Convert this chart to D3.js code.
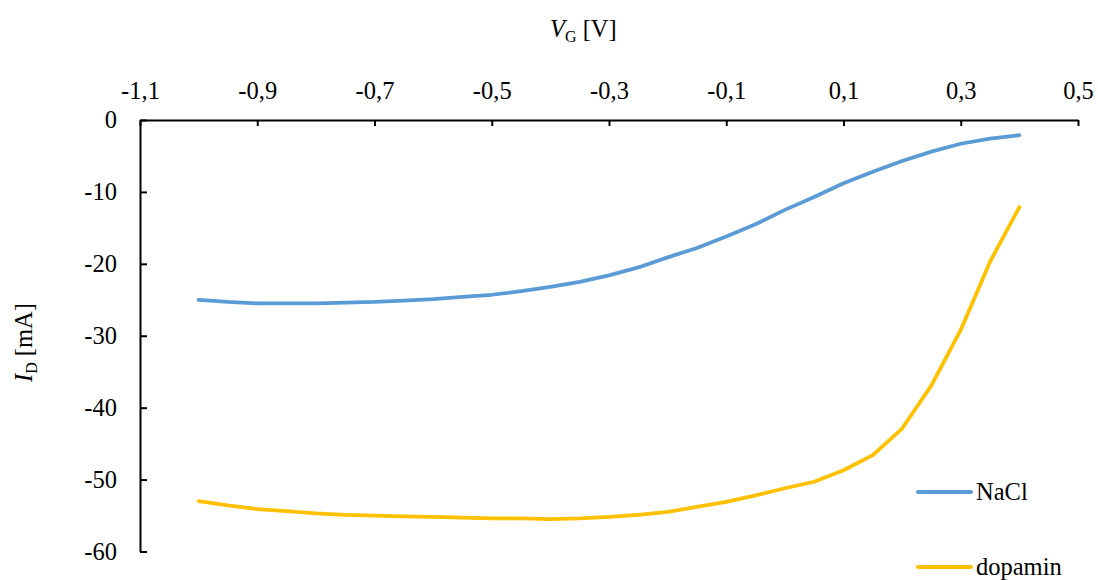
<!DOCTYPE html>
<html>
<head>
<meta charset="utf-8">
<script src="https://cdn.jsdelivr.net/npm/d3@7"></script>
<style>
  html, body { margin: 0; padding: 0; background: #fff; }
  svg { display: block; }
  svg text { font-family: "Liberation Serif", "Tinos", "Times New Roman", serif; }
</style>
</head>
<body>
<svg id="chart" width="1098" height="580"></svg>
<script>
// Gate voltage sweep (V)
const gateVoltage = [-1.00, -0.95, -0.90, -0.85, -0.80, -0.75, -0.70, -0.65, -0.60, -0.55,
                     -0.50, -0.45, -0.40, -0.35, -0.30, -0.25, -0.20, -0.15, -0.10, -0.05,
                      0.00,  0.05,  0.10,  0.15,  0.20,  0.25,  0.30,  0.35,  0.40];

// Drain current (mA) in NaCl solution
const currentNaCl = [-25.0, -25.3, -25.5, -25.5, -25.5, -25.4, -25.3, -25.1, -24.9, -24.6,
                     -24.3, -23.8, -23.2, -22.5, -21.6, -20.5, -19.1, -17.8, -16.2, -14.5,
                     -12.5, -10.7,  -8.8,  -7.2,  -5.7,  -4.4,  -3.3,  -2.6,  -2.1];

// Drain current (mA) with dopamine
const currentDopamin = [-53.0, -53.6, -54.1, -54.4, -54.7, -54.9, -55.0, -55.1, -55.2, -55.3,
                        -55.4, -55.4, -55.5, -55.4, -55.2, -54.9, -54.5, -53.8, -53.1, -52.2,
                        -51.2, -50.3, -48.7, -46.6, -42.9, -36.9, -29.2, -19.7, -12.1];

const seriesNames = ["NaCl", "dopamin"];
const seriesColors = ["#5B9BD5", "#FFC000"];

const xTicks = [-1.1, -0.9, -0.7, -0.5, -0.3, -0.1, 0.1, 0.3, 0.5];
const yTicks = [0, -10, -20, -30, -40, -50, -60];

const svg = d3.select("#chart");

const x = d3.scaleLinear().domain([-1.1, 0.5]).range([140, 1078]);
const y = d3.scaleLinear().domain([-60, 0]).range([551.5, 120]);

const fmtX = d => d.toFixed(1).replace(".", ",");
const fmtY = d => String(d);

// Horizontal axis runs along the top, at I = 0
const xAxis = svg.append("g")
  .attr("transform", `translate(0,${y(0)})`)
  .call(d3.axisTop(x).tickValues(xTicks).tickFormat(fmtX)
    .tickSizeInner(-6).tickSizeOuter(0).tickPadding(21));

const yAxis = svg.append("g")
  .attr("transform", `translate(${x(-1.1)},0)`)
  .call(d3.axisLeft(y).tickValues(yTicks).tickFormat(fmtY)
    .tickSizeInner(-7).tickSizeOuter(0).tickPadding(23));

[xAxis, yAxis].forEach(g => {
  g.attr("font-family", null).attr("font-size", null);
  g.selectAll("path.domain").attr("stroke", "#000").attr("stroke-width", 2);
  g.selectAll(".tick line").attr("stroke", "#000").attr("stroke-width", 2);
  g.selectAll(".tick text")
    .attr("fill", "#000")
    .style("font-size", "24.5px");
});

// Curves
const line = d3.line().x(d => x(d[0])).y(d => y(d[1]));
const series = [currentNaCl, currentDopamin];

series.forEach((vals, i) => {
  svg.append("path")
    .datum(gateVoltage.map((v, j) => [v, vals[j]]))
    .attr("fill", "none")
    .attr("stroke", seriesColors[i])
    .attr("stroke-width", 3.75)
    .attr("stroke-linejoin", "round")
    .attr("stroke-linecap", "round")
    .attr("d", line);
});

// Axis titles
const xTitle = svg.append("text")
  .attr("x", 550)
  .attr("y", 37)
  .attr("font-size", 24.5)
  .attr("fill", "#000");
xTitle.append("tspan").attr("font-style", "italic").text("V");
xTitle.append("tspan").attr("font-size", 16).attr("dy", 5).text("G");
xTitle.append("tspan").attr("dy", -5).text(" [V]");

const yTitle = svg.append("text")
  .attr("transform", "translate(32,382) rotate(-90)")
  .attr("font-size", 24.5)
  .attr("fill", "#000");
yTitle.append("tspan").attr("font-style", "italic").text("I");
yTitle.append("tspan").attr("font-size", 16).attr("dy", 5).text("D");
yTitle.append("tspan").attr("dy", -5).text(" [mA]");

// Legend
const legend = svg.append("g");
seriesNames.forEach((name, i) => {
  const ly = 492 + i * 75;
  legend.append("line")
    .attr("x1", 918).attr("x2", 971)
    .attr("y1", ly).attr("y2", ly)
    .attr("stroke", seriesColors[i])
    .attr("stroke-width", 4)
    .attr("stroke-linecap", "round");
  legend.append("text")
    .attr("x", 976)
    .attr("y", ly)
    .attr("dy", "0.33em")
    .attr("font-size", 24.5)
    .attr("fill", "#000")
    .text(name);
});
</script>
</body>
</html>
